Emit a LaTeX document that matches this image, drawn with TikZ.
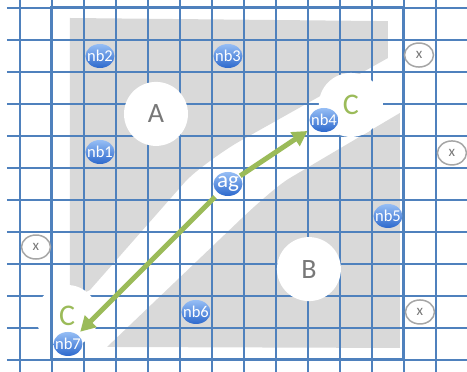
\documentclass[tikz,border=0pt]{standalone}
\usepackage{fontspec}
\setmainfont{Carlito}
\usetikzlibrary{shapes.geometric, arrows.meta}
\definecolor{gridblue}{RGB}{79,129,189}
\definecolor{areagray}{RGB}{217,217,217}
\definecolor{cgreen}{RGB}{155,187,89}
\definecolor{lettergray}{RGB}{120,120,120}
\definecolor{ringgray}{RGB}{166,166,166}
\definecolor{agtop}{RGB}{150,190,245}
\definecolor{agbottom}{RGB}{45,105,205}

\begin{document}
\begin{tikzpicture}[x=32pt, y=32pt]
\tikzstyle{cellline}=[draw=gridblue, line width=1.8pt]
\tikzstyle{boxline}=[draw=gridblue, line width=3pt]
\tikzstyle{grayarea}=[fill=areagray]
\tikzstyle{region}=[circle, fill=white, inner sep=0pt, minimum size=64pt, text=lettergray, font=\fontsize{28}{30}\selectfont]
\tikzstyle{cregion}=[region, text=cgreen, font=\fontsize{30}{32}\selectfont]
\tikzstyle{agent}=[ellipse, minimum width=29pt, minimum height=24pt, inner sep=-4pt, top color=agtop, bottom color=agbottom, text=white, font=\fontsize{16.5}{18}\selectfont]
\tikzstyle{blocked}=[ellipse, draw=ringgray, line width=1.5pt, fill=white, minimum width=29pt, minimum height=24pt, inner sep=-4pt, text=lettergray, font=\fontsize{15}{16}\selectfont]
\tikzstyle{move}=[draw=cgreen, line width=5pt, -{Triangle[length=15pt, width=16pt]}]
\useasboundingbox (-0.625,-0.375) rectangle (13.97,11.25);
\fill[grayarea] (1.5625,10.6875) -- (11.5,10.59) -- (11.5,9.4375) -- (6.875,6.84) .. controls (6.466,6.616) and (5.466,5.914) .. (5.156,5.5625) -- (2.1875,2.1875) -- (1.5625,1.875) -- cycle;
\fill[grayarea] (11.875,7.72) -- (8.4375,5.6875) .. controls (8.034,5.45) and (7.2125,4.698) .. (6.875,4.375) -- (2.72,0.406) -- (11.875,0.375) -- cycle;
\foreach \i in {0,...,13} \draw[cellline] (\i,-0.375) -- (\i,11.25);
\foreach \j in {0,...,11} \draw[cellline] (-0.41,\j) -- (13.97,\j);
\node[region] (A) at (4.25,7.69) {A};
\node[region] (B) at (9.03,2.84) {B};
\node[cregion] (C1) at (10.34,7.97) {C};
\node[cregion, minimum size=62pt] (C2) at (1.47,1.375) {C};
\draw[boxline] (1,0) rectangle (12,11);
\node[blocked] (x1) at (12.47,9.53) {x};
\node[blocked] (x2) at (13.5,6.47) {x};
\node[blocked] (x3) at (0.5,3.53) {x};
\node[blocked] (x4) at (12.5,1.5) {x};
\node[agent] (nb1) at (2.5,6.5) {nb1};
\node[agent] (nb2) at (2.5,9.5) {nb2};
\node[agent] (nb3) at (6.5,9.5) {nb3};
\node[agent] (nb4) at (9.5,7.5) {nb4};
\node[agent] (nb5) at (11.5,4.5) {nb5};
\node[agent] (nb6) at (5.5,1.5) {nb6};
\node[agent] (nb7) at (1.5,0.5) {nb7};
\node[agent, font=\fontsize{23}{24}\selectfont] (ag) at (6.5,5.5) {ag};
\draw[move, shorten <=1pt, shorten >=6pt] (ag) -- (nb4);
\draw[move, shorten <=5pt, shorten >=4pt] (ag) -- (nb7);
\end{tikzpicture}
\end{document}
